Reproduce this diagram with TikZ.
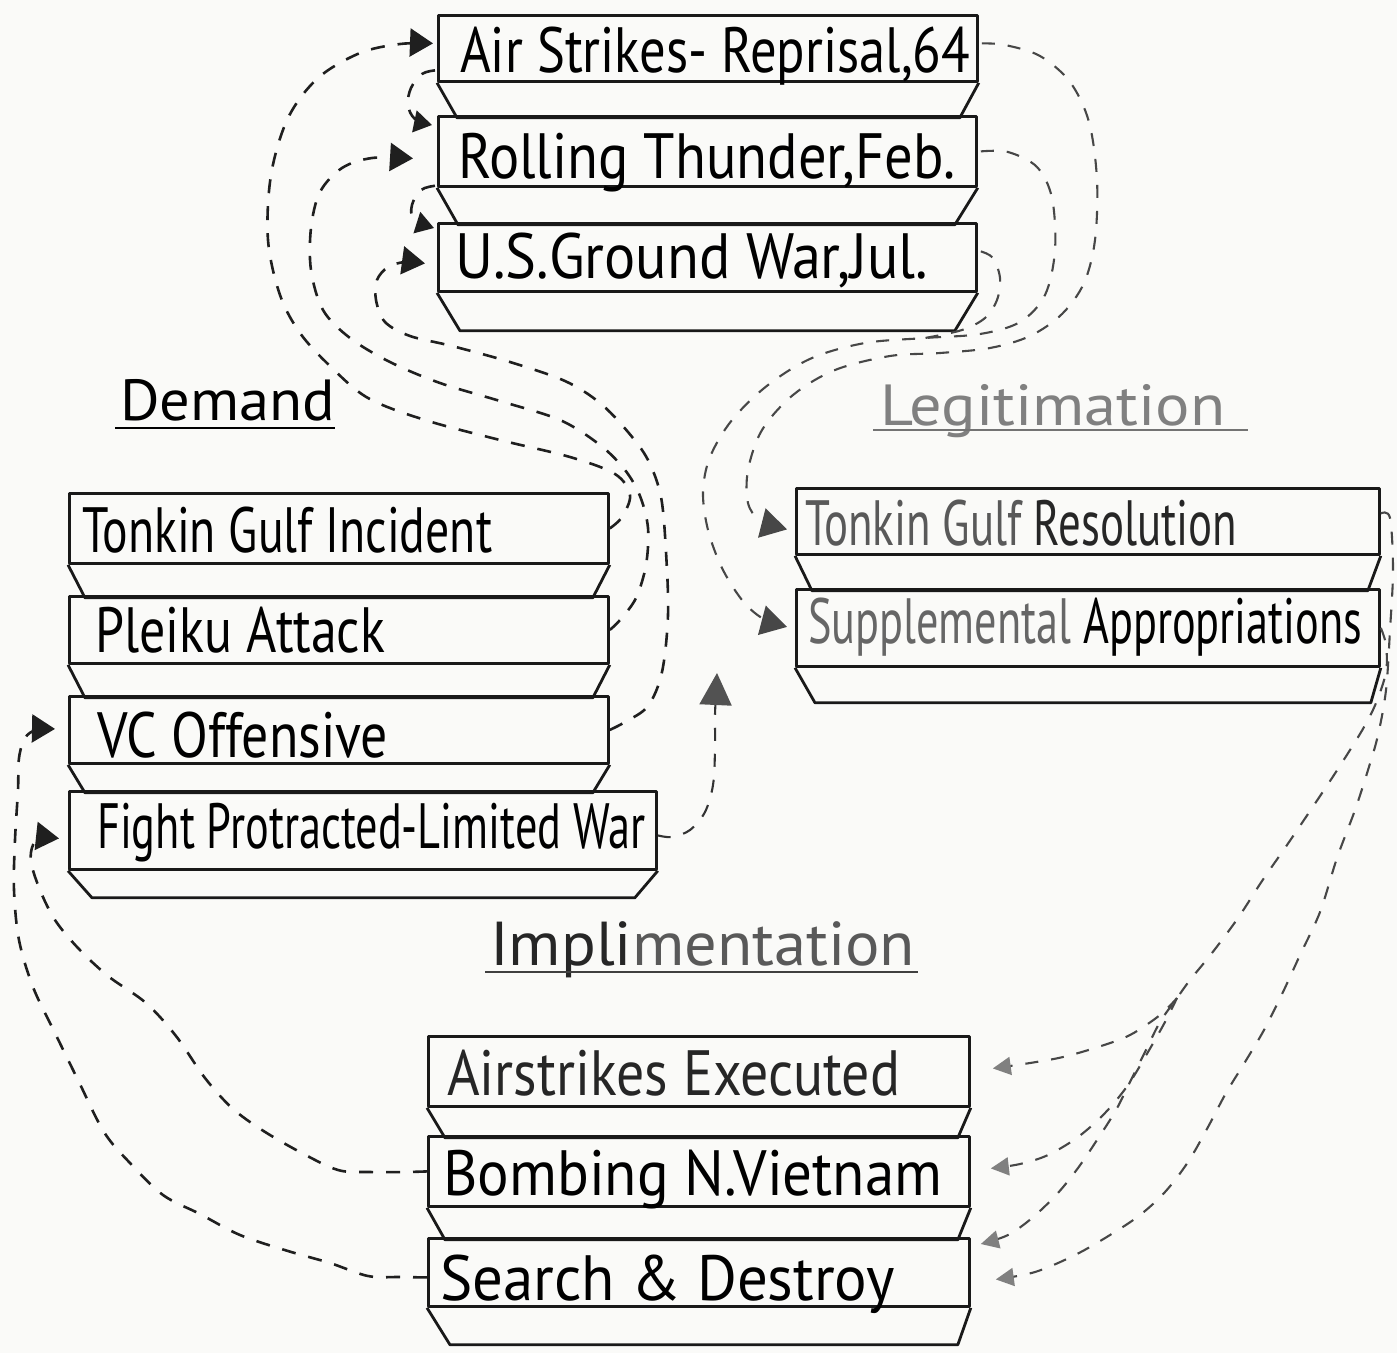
\documentclass[tikz,border=0pt]{standalone}
\usepackage{fontspec}
\setmainfont{PT Sans}
\usepackage{graphicx}
\usetikzlibrary{arrows.meta,calc}
\definecolor{paper}{RGB}{250,250,248}
\newcommand\fitw[2]{\resizebox{#1pt}{\height}{#2}}
\newcommand\mytrap[4]{\draw[boxline] (#1.south west) -- ++(#2,#4) -- ($(#1.south east)+(-#3,#4)$) -- (#1.south east);}
\begin{document}
\begin{tikzpicture}[x=1pt,y=-1pt,
  boxline/.style={line width=2.8pt, draw=black!90, line join=round},
  box/.style={boxline, rectangle, inner sep=0pt, anchor=north west},
  lab/.style={inner sep=0pt, anchor=base west, font=\fontsize{64}{70}\selectfont},
  head/.style={inner sep=0pt, anchor=base west, font=\fontsize{58}{64}\selectfont},
  conn/.style={draw=black!88, line width=2.6pt, dash pattern=on 14pt off 13pt},
  connR/.style={draw=black!72, line width=2.1pt, dash pattern=on 13pt off 13pt},
  tipL/.style={-{Triangle[length=23pt,width=28pt]}},
  tipS/.style={-{Triangle[length=18pt,width=22pt]}},
  tipG/.style={-{Triangle[length=26pt,width=30pt,color=black!72]}},
  tipI/.style={-{Triangle[length=18pt,width=18pt,color=black!50]}},
  tipU/.style={-{Triangle[length=32pt,width=32pt,color=black!68]}},
  uline/.style={line width=2.4pt}
]
\fill[paper] (0,0) rectangle (1397,1353);
\useasboundingbox (0,0) rectangle (1397,1353);

% ---------- boxes: top stack ----------
\node[box, minimum width=539pt, minimum height=66pt] (A1) at (437,14) {};
\node[box, minimum width=538pt, minimum height=70pt] (A2) at (437,115) {};
\node[box, minimum width=538pt, minimum height=68pt] (A3) at (437,222) {};
\mytrap{A1}{20}{19}{35}
\mytrap{A2}{21}{23}{37}
\mytrap{A3}{23}{23}{38}
\node[lab] (A1t) at (460,72) {\fitw{510}{Air Strikes- Reprisal,64}};
\node[lab] (A2t) at (458,178) {\fitw{497}{Rolling Thunder,Feb.}};
\node[lab] (A3t) at (455,278) {\fitw{473}{U.S.Ground War,Jul.}};

% ---------- Demand stack ----------
\node[box, minimum width=539pt, minimum height=70pt] (D1) at (68,492) {};
\node[box, minimum width=539pt, minimum height=67pt] (D2) at (68,595) {};
\node[box, minimum width=539pt, minimum height=67pt] (D3) at (68,695) {};
\node[box, minimum width=587pt, minimum height=78pt] (D4) at (68,790) {};
\mytrap{D1}{17}{17}{33}
\mytrap{D2}{17}{17}{33}
\mytrap{D3}{17}{17}{28}
\mytrap{D4}{24}{23}{27}
\node[lab] (D1t) at (82,552) {\fitw{410}{Tonkin Gulf Incident}};
\node[lab] (D2t) at (95,652) {\fitw{290}{Pleiku Attack}};
\node[lab] (D3t) at (97,757) {\fitw{291}{VC Offensive}};
\node[lab] (D4t) at (97,848) {\fitw{548}{Fight Protracted-Limited War}};

% ---------- Legitimation stack ----------
\node[box, minimum width=583pt, minimum height=66pt] (L1) at (795,487) {};
\node[box, minimum width=583pt, minimum height=77pt] (L2) at (795,588) {};
\mytrap{L1}{17}{13}{35}
\mytrap{L2}{20}{10}{35}
\node[lab] (L1t) at (805,545) {\fitw{432}{\textcolor{black!65}{Tonkin Gulf} \textcolor{black!85}{Resolution}}};
\node[lab] (L2t) at (808,643) {\fitw{554}{\textcolor{black!60}{Supplemental} Appropriations}};

% ---------- Implementation stack ----------
\node[box, minimum width=541pt, minimum height=70pt] (I1) at (427,1035) {};
\node[box, minimum width=541pt, minimum height=70pt] (I2) at (427,1135) {};
\node[box, minimum width=541pt, minimum height=68pt] (I3) at (427,1237) {};
\mytrap{I1}{18}{13}{30}
\mytrap{I2}{18}{13}{32}
\mytrap{I3}{23}{13}{37}
\node[lab] (I1t) at (447,1095) {\fitw{453}{\textcolor{black!85}{Airstrikes Executed}}};
\node[lab] (I2t) at (443,1195) {\fitw{499}{Bombing N.Vietnam}};
\node[lab] (I3t) at (440,1300) {\fitw{455}{Search \& Destroy}};

% ---------- headings ----------
\node[head] (hDem) at (120,420) {\fitw{215}{Demand}};
\node[head, text=black!50] (hLeg) at (880,425) {\fitw{345}{Legitimation}};
\node[head, font=\fontsize{62}{66}\selectfont] (hImp) at (490,965) {\fitw{425}{\textcolor{black!85}{Impli}\textcolor{black!65}{mentation}}};
\draw[uline] ($(hDem.base west)+(-5,8)$) -- ++(220,0);
\draw[uline, draw=black!55] ($(hLeg.base west)+(-7,5)$) -- ++(375,0);
\draw[uline, draw=black!75] ($(hImp.base west)+(-5,7)$) -- ++(433,0);

% ---------- end coordinates ----------
\coordinate (a1in) at ($(A1.west)+(-4,-5)$);
\coordinate (a2in) at ($(A2.west)+(-24,7)$);
\coordinate (a3in) at ($(A3.west)+(-12,6)$);
\coordinate (a2top) at ($(A2.north west)+(-5,10)$);
\coordinate (a3top) at ($(A3.north west)+(-3,6)$);
\coordinate (a1s) at ($(A1.west)+(-2,22)$);
\coordinate (a2s) at ($(A2.south west)+(-2,-2)$);
\coordinate (a1e) at ($(A1.east)+(3,-5)$);
\coordinate (a2e) at ($(A2.east)+(3,0)$);
\coordinate (a3e) at ($(A3.east)+(3,-6)$);
\coordinate (l1in) at ($(L1.west)+(-8,8)$);
\coordinate (l2in) at ($(L2.west)+(-8,-1)$);
\coordinate (r3join) at (925,338);
\coordinate (l1e) at ($(L1.east)+(0,-8)$);
\coordinate (J) at (1177,998);
\coordinate (i1in) at ($(I1.east)+(22,-3)$);
\coordinate (i2in) at ($(I2.east)+(20,-3)$);
\coordinate (i3in) at ($(I3.east)+(25,7)$);
\coordinate (i3top) at ($(I3.north east)+(10,7)$);
\coordinate (i3w) at ($(I3.west)+(0,5)$);
\coordinate (d3in) at ($(D3.west)+(-13,-1)$);
\coordinate (d4in) at ($(D4.west)+(-9,8)$);
\coordinate (d4e) at ($(D4.east)+(0,5)$);
\coordinate (upend) at (717,673);

% ---------- Demand -> top ----------
\draw[conn, tipL] plot[smooth, tension=0.55] coordinates {(D1.east) (622,517) (630,495) (615,474) (570,457) (500,440) (425,420) (368,398) (330,366) (300,333) (280,295) (268,240) (271,175) (288,118) (318,78) (360,53) (400,44) (a1in)};
\draw[conn, tipL] plot[smooth, tension=0.55] coordinates {(D2.east) (620,620) (636,598) (646,565) (648,528) (640,496) (625,470) (600,445) (560,420) (500,401) (440,383) (390,362) (350,338) (323,310) (311,270) (311,228) (320,192) (342,168) (372,158) (a2in)};
\draw[conn, tipL] plot[smooth, tension=0.55] coordinates {(D3.east) (625,722) (648,706) (662,672) (668,615) (666,552) (661,497) (648,460) (628,432) (600,403) (565,381) (510,362) (452,346) (410,336) (385,322) (376,300) (377,280) (388,267) (405,262) (a3in)};

% ---------- sequence on left of top stack ----------
\draw[conn, tipS] plot[smooth, tension=0.6] coordinates {(a1s) (422,74) (411,88) (408,105) (415,119) (a2top)};
\draw[conn, tipS] plot[smooth, tension=0.6] coordinates {(a2s) (421,190) (412,205) (414,219) (a3top)};

% ---------- top -> Legitimation ----------
\draw[connR, tipG] plot[smooth, tension=0.55] coordinates {(a1e) (1005,45) (1040,56) (1070,82) (1089,122) (1097,180) (1095,240) (1084,283) (1062,314) (1030,336) (990,348) (940,353) (890,356) (835,370) (793,395) (762,430) (748,470) (748,503) (760,520) (l1in)};
\draw[connR, tipG] plot[smooth, tension=0.55] coordinates {(a2e) (1008,152) (1037,167) (1052,198) (1055,250) (1045,295) (1020,322) (980,334) (r3join) (865,343) (812,358) (768,385) (732,420) (710,457) (703,492) (708,530) (722,568) (742,600) (762,618) (l2in)};
\draw[connR] plot[smooth, tension=0.55] coordinates {(a3e) (993,258) (1000,278) (997,300) (985,318) (962,330) (r3join)};

% ---------- Legitimation -> Implementation ----------
\draw[connR, tipI] plot[smooth, tension=0.55] coordinates {(l1e) (1390,518) (1393,570) (1390,630) (1386,690) (1378,735) (1368,770) (1355,810) (1337,858) (1320,912) (1300,955) (1283,992) (1264,1030) (1245,1062) (1226,1093) (1208,1127) (1188,1162) (1165,1192) (1140,1215) (1110,1235) (1075,1255) (1035,1272) (i3in)};
\draw[connR, tipI] plot[smooth, tension=0.55] coordinates {(L2.east) (1386,645) (1386,672) (1376,703) (1364,727) (1350,750) (1332,778) (1310,811) (1287,845) (1262,881) (1238,918) (1212,953) (1190,980) (J) (1160,1022) (1146,1050) (1131,1080) (1116,1110) (1097,1140) (1078,1168) (1057,1194) (1032,1218) (1008,1235) (i3top)};
\draw[connR, tipI] plot[smooth, tension=0.55] coordinates {(J) (1165,1022) (1148,1052) (1128,1085) (1105,1113) (1078,1137) (1048,1155) (1020,1164) (i2in)};
\draw[connR, tipI] plot[smooth, tension=0.55] coordinates {(J) (1160,1015) (1130,1035) (1098,1047) (1063,1057) (1030,1063) (i1in)};

% ---------- Implementation -> Demand ----------
\draw[conn, tipL] plot[smooth, tension=0.55] coordinates {(I2.west) (405,1172) (370,1172) (338,1170) (300,1152) (262,1130) (232,1108) (205,1078) (176,1036) (146,1003) (108,976) (78,948) (55,920) (40,890) (31,862) (33,845) (42,838) (d4in)};
\draw[conn, tipL] plot[smooth, tension=0.55] coordinates {(i3w) (400,1277) (368,1276) (330,1263) (288,1251) (240,1235) (200,1214) (163,1195) (130,1163) (104,1132) (78,1080) (55,1033) (33,987) (19,940) (14,890) (15,840) (18,790) (19,758) (25,738) (36,730) (d3in)};

% ---------- Fight Protracted -> upward ----------
\draw[connR, draw=black!80, tipU] plot[smooth, tension=0.55] coordinates {(d4e) (672,837) (690,830) (705,812) (713,785) (715,750) (715,715) (716,695) (upend)};
\end{tikzpicture}
\end{document}
